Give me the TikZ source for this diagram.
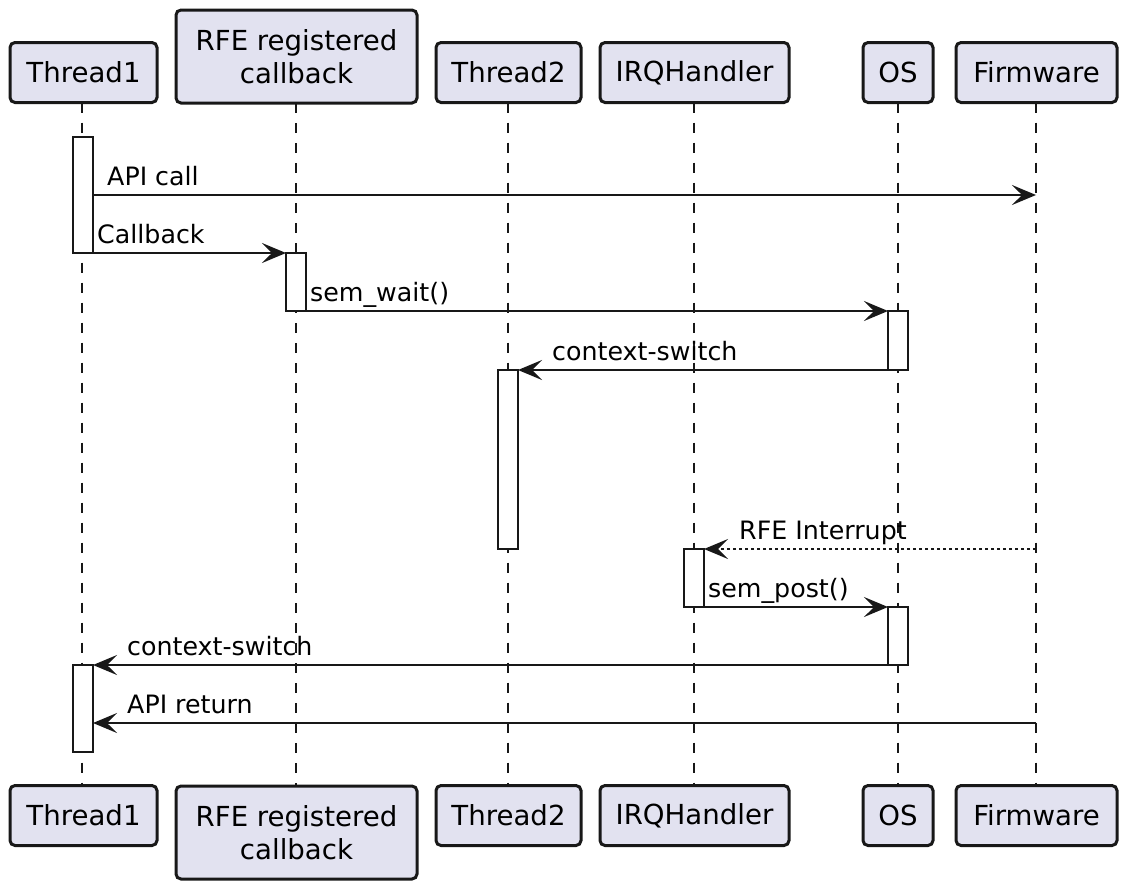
\documentclass[tikz,border=0pt]{standalone}
\usepackage{fontspec}
\setmainfont{DejaVu Sans}
\usetikzlibrary{arrows.meta}
\definecolor{lc}{HTML}{181818}
\definecolor{pfill}{HTML}{E2E2F0}
\newcommand{\partfont}{\fontsize{27.6}{33}\selectfont}
\newcommand{\msgfont}{\fontsize{25.3}{30}\selectfont}
\tikzset{
  part/.style={draw=lc, line width=3pt, fill=pfill, rounded corners=5pt,
    font=\partfont, inner sep=0pt, outer sep=0pt, align=center, minimum height=60pt},
  lifeline/.style={draw=lc, line width=1.2pt, dash pattern=on 10pt off 10pt},
  actbar/.style={draw=lc, line width=2pt, fill=white, minimum width=20pt, inner sep=0pt, outer sep=0pt},
  msg/.style={draw=lc, line width=2pt, -{Stealth[length=24pt, width=20pt, inset=10pt]}},
  async/.style={msg, dash pattern=on 3pt off 3pt},
  mlabel/.style={font=\msgfont, anchor=base west, inner sep=0pt, text=black},
}
\begin{document}
\begin{tikzpicture}[x=1pt, y=-1pt]
\useasboundingbox (0,0) rectangle (1126,889);
% participants (top)
\node[part, minimum width=147pt] (t1) at (83.5,72.5) {Thread1};
\node[part, minimum width=241pt, minimum height=93pt] (rfe) at (296.5,56.5) {RFE registered\\callback};
\node[part, minimum width=145pt] (t2) at (508.5,72.5) {Thread2};
\node[part, minimum width=189pt] (irq) at (694.5,72.5) {IRQHandler};
\node[part, minimum width=70pt] (os) at (898,72.5) {OS};
\node[part, minimum width=161pt] (fw) at (1036.5,72.5) {Firmware};
% participants (bottom)
\node[part, minimum width=147pt] (t1b) at (83.5,815.5) {Thread1};
\node[part, minimum width=241pt, minimum height=93pt] (rfeb) at (296.5,832.5) {RFE registered\\callback};
\node[part, minimum width=145pt] (t2b) at (508.5,815.5) {Thread2};
\node[part, minimum width=189pt] (irqb) at (694.5,815.5) {IRQHandler};
\node[part, minimum width=70pt] (osb) at (898,815.5) {OS};
\node[part, minimum width=161pt] (fwb) at (1036.5,815.5) {Firmware};
% lifelines
\coordinate (l1) at (82,0); \coordinate (l2) at (296,0); \coordinate (l3) at (508,0);
\coordinate (l4) at (694,0); \coordinate (l5) at (898,0); \coordinate (l6) at (1036,0);
\draw[lifeline] (l1 |- t1.south) -- (l1 |- t1b.north);
\draw[lifeline] (l2 |- rfe.south) -- (l2 |- rfeb.north);
\draw[lifeline] (l3 |- t2.south) -- (l3 |- t2b.north);
\draw[lifeline] (l4 |- irq.south) -- (l4 |- irqb.north);
\draw[lifeline] (l5 |- os.south) -- (l5 |- osb.north);
\draw[lifeline] (l6 |- fw.south) -- (l6 |- fwb.north);
% activation bars
\node[actbar, minimum height=116pt] (a1) at (83,195) {};
\node[actbar, minimum height=58pt] (a2) at (296,282) {};
\node[actbar, minimum height=59pt] (a3) at (898,340.5) {};
\node[actbar, minimum height=179pt] (a4) at (508,459.5) {};
\node[actbar, minimum height=58pt] (a5) at (694,578) {};
\node[actbar, minimum height=58pt] (a6) at (898,636) {};
\node[actbar, minimum height=87pt] (a7) at (83,708.5) {};
% messages
\draw[msg] (a1.east |- 0,195) -- (l6 |- 0,195);
\node[mlabel] (m1) at (107,185) {API call};
\draw[msg] (a1.south east) -- (a2.north west);
\node[mlabel] (m2) at (97,243) {Callback};
\draw[msg] (a2.south east) -- (a3.north west);
\node[mlabel] (m3) at (310,301) {sem\_wait()};
\draw[msg] (a3.south west) -- (a4.north east);
\node[mlabel] (m4) at (552,360) {context-switch};
\draw[async] (l6 |- 0,549) -- (a5.north east);
\node[mlabel] (m5) at (739,539) {RFE Interrupt};
\draw[msg] (a5.south east) -- (a6.north west);
\node[mlabel] (m6) at (708,597) {sem\_post()};
\draw[msg] (a6.south west) -- (a7.north east);
\node[mlabel] (m7) at (127,655) {context-switch};
\draw[msg] (l6 |- 0,723) -- (a7.east |- 0,723);
\node[mlabel] (m8) at (127,713) {API return};
\end{tikzpicture}
\end{document}
